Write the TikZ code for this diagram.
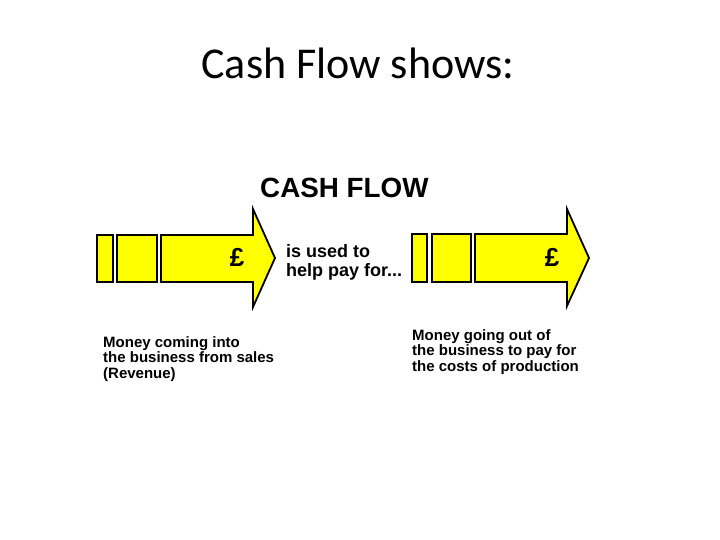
\documentclass[tikz,border=0pt]{standalone}
\usepackage{fontspec}
\setmainfont{Liberation Sans}
\newfontfamily\titlefont{Carlito}
\definecolor{flowyellow}{HTML}{FFFF00}
\begin{document}
\begin{tikzpicture}[x=1pt,y=-1pt,
  flowbox/.style={draw=black,fill=flowyellow,line width=1.8pt,line join=miter},
  caption/.style={anchor=north west,inner sep=0pt,align=left,font=\bfseries\fontsize{15}{15.5}\selectfont},
  pound/.style={inner sep=0pt,anchor=base,font=\bfseries\fontsize{26}{26}\selectfont}]
\useasboundingbox (0,0) rectangle (720,540);
\node[anchor=base,inner sep=0pt,font=\titlefont\fontsize{44}{44}\selectfont] (title) at (358,79) {Cash Flow shows:};
\node[anchor=base west,inner sep=0pt,font=\bfseries\fontsize{27.8}{27.8}\selectfont] (head) at (260,197) {CASH FLOW};
% left arrow
\draw[flowbox] (97,235) rectangle (113,282);
\draw[flowbox] (117,235) rectangle (157,282);
\draw[flowbox] (161,235) -- (253,235) -- (253,209) -- (275,258) -- (253,307) -- (253,282) -- (161,282) -- cycle;
\node[pound] (poundL) at (237,266) {£};
% right arrow
\draw[flowbox] (412,234) rectangle (427,282);
\draw[flowbox] (432,234) rectangle (471,282);
\draw[flowbox] (475,234) -- (567,234) -- (567,209) -- (589,258) -- (567,306) -- (567,282) -- (475,282) -- cycle;
\node[pound] (poundR) at (552,266) {£};
\node[anchor=north west,inner sep=0pt,align=left,font=\bfseries\fontsize{18}{19}\selectfont] (mid) at (286,244) {is used to\\help pay for...};
\node[caption] (left) at (103,336) {Money coming into\\the business from sales\\(Revenue)};
\node[caption] (right) at (412,329) {Money going out of\\the business to pay for\\the costs of production};
\end{tikzpicture}
\end{document}
